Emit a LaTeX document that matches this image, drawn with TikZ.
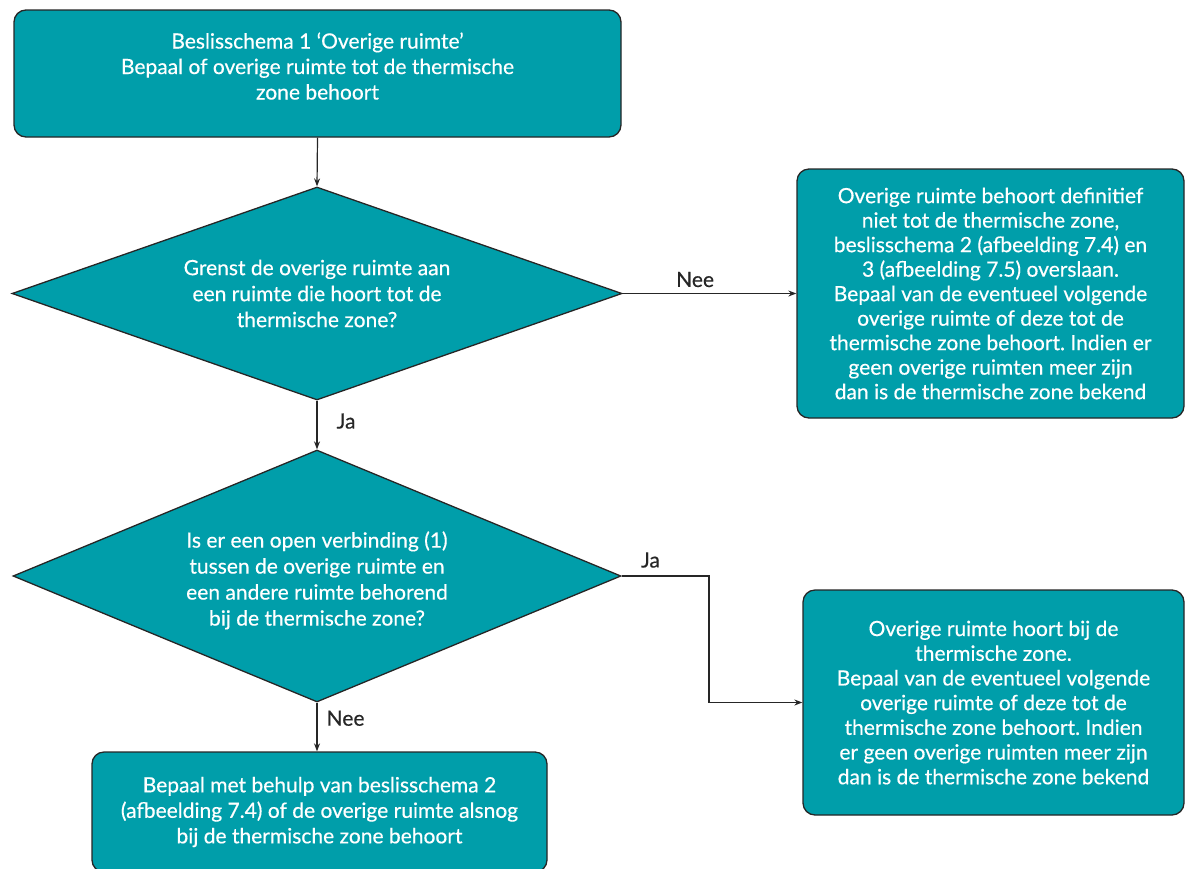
\documentclass[tikz,border=0pt]{standalone}
\usepackage{fontspec}
\setmainfont{Lato}[FakeBold=0.4]
\frenchspacing
\usetikzlibrary{shapes.geometric,arrows.meta}
\definecolor{teal1}{HTML}{009EAA}
\definecolor{edge1}{HTML}{262626}
\tikzset{
  box/.style={draw=edge1, line width=1.3pt, fill=teal1, rounded corners=12pt,
    text=white, align=center, inner sep=0pt, font=\fontsize{21}{25.5}\selectfont},
  dec/.style={draw=edge1, line width=1.3pt, fill=teal1, diamond, aspect=2.8,
    text=white, align=center, inner sep=0pt, font=\fontsize{21}{26}\selectfont},
  conn/.style={draw=black!85, line width=1.2pt, -{Stealth[length=8pt,width=6pt]}},
  lbl/.style={text=black!85, font=\fontsize{21}{24}\selectfont, inner sep=0pt}
}
\begin{document}
\begin{tikzpicture}[x=1pt,y=-1pt]
\useasboundingbox (0,0) rectangle (1186,868);
\node[box, minimum width=607pt, minimum height=127pt] (top) at (317.5,73.5)
  {Beslisschema 1 ‘Overige ruimte’\\Bepaal of overige ruimte tot de thermische\\zone behoort\rule[-15pt]{0pt}{1pt}};
\node[dec, minimum width=610pt, minimum height=213pt] (d1) at (317,293.5)
  {Grenst de overige ruimte aan\\een ruimte die hoort tot de\\thermische zone?};
\node[box, minimum width=387pt, minimum height=249pt, font=\fontsize{21}{24.5}\selectfont] (r1) at (990.5,293.5)
  {Overige ruimte behoort definitief\\niet tot de thermische zone,\\beslisschema 2 (afbeelding 7.4) en\\3 (afbeelding 7.5) overslaan.\\Bepaal van de eventueel volgende\\overige ruimte of deze tot de\\thermische zone behoort. Indien er\\geen overige ruimten meer zijn\\dan is de thermische zone bekend};
\node[dec, minimum width=608pt, minimum height=252pt] (d2) at (317,576)
  {\rule{0pt}{25pt}Is er een open verbinding (1)\\tussen de overige ruimte en\\een andere ruimte behorend\\bij de thermische zone?};
\node[box, minimum width=381pt, minimum height=225pt, font=\fontsize{21}{24.7}\selectfont] (r2) at (993.5,702.5)
  {Overige ruimte hoort bij de\\thermische zone.\\Bepaal van de eventueel volgende\\overige ruimte of deze tot de\\thermische zone behoort. Indien\\er geen overige ruimten meer zijn\\dan is de thermische zone bekend};
\node[box, minimum width=455pt, minimum height=120pt] (bot) at (319.5,812)
  {Bepaal met behulp van beslisschema 2\\(afbeelding 7.4) of de overige ruimte alsnog\\bij de thermische zone behoort};
\coordinate (bend) at (709,576);
\draw[conn] (top.south) -- (d1.north);
\draw[conn] (d1.east) -- (r1.west) node[lbl, pos=0.417, yshift=14pt] {Nee};
\draw[conn] (d1.south) -- (d2.north) node[lbl, pos=0.42, anchor=west, xshift=19pt] {Ja};
\draw[conn] (d2.east) -- (bend) node[lbl, pos=0.33, yshift=16pt] {Ja} |- (r2.west);
\draw[conn] (d2.south) -- (d2.south |- bot.north) node[lbl, pos=0.32, anchor=west, xshift=9pt] {Nee};
\end{tikzpicture}
\end{document}
